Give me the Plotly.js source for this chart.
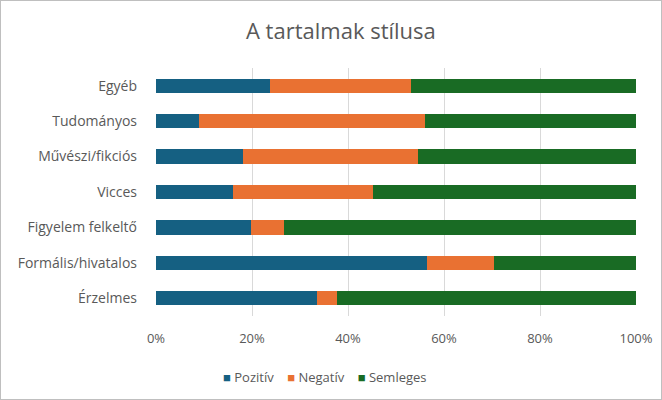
<!DOCTYPE html>
<html>
<head>
<meta charset="utf-8">
<script src="https://cdn.plot.ly/plotly-3.0.1.min.js"></script>
<style>
html,body{margin:0;padding:0;background:#fff;}
#chart{width:660px;height:398px;border:1px solid #bfbfbf;}
</style>
</head>
<body>
<div id="chart"></div>
<script>
const categories = ["Egyéb","Tudományos","Művészi/fikciós","Vicces","Figyelem felkeltő","Formális/hivatalos","Érzelmes"];
const pozitiv  = [23.8, 8.9, 18.1, 16.0, 19.7, 56.5, 33.6];
const negativ  = [29.3, 47.1, 36.5, 29.3, 6.9, 14.0, 4.2];
const semleges = [46.9, 44.0, 45.4, 54.7, 73.4, 29.5, 62.2];
const seriesNames = ["Pozitív","Negatív","Semleges"];
const colors = ["#156082","#E97132","#196B24"];

const data = [pozitiv, negativ, semleges].map((vals, i) => ({
  type: 'bar', orientation: 'h',
  y: categories, x: vals, name: seriesNames[i],
  marker: {color: colors[i]},
  hoverinfo: 'skip'
}));

const legendText = seriesNames.map((n, i) =>
  '<span style="color:' + colors[i] + '">■</span> ' + n).join('&nbsp;&nbsp;&nbsp;&nbsp;');

const font = 'Open Sans, sans-serif';
const layout = {
  width: 660, height: 398,
  barmode: 'stack', bargap: 0.6,
  margin: {l: 155, r: 25, t: 67, b: 83},
  paper_bgcolor: '#fff', plot_bgcolor: '#fff',
  font: {family: font, size: 13, color: '#595959'},
  title: {text: 'A tartalmak stílusa', x: 0.515, xanchor: 'center', y: 0.925, yanchor: 'middle',
          font: {size: 22, color: '#595959', family: font}},
  xaxis: {range: [0, 100], dtick: 20, ticksuffix: '%', showgrid: true, gridcolor: '#d9d9d9',
          zeroline: false, showline: false, ticks: '', ticklabelstandoff: 13,
          tickfont: {size: 13, color: '#595959'}, fixedrange: true},
  yaxis: {autorange: 'reversed', showgrid: false, ticks: '', ticklen: 0, ticklabelstandoff: 18,
          tickfont: {size: 14, color: '#595959'}, automargin: false, fixedrange: true},
  showlegend: false,
  annotations: [{
    xref: 'paper', yref: 'paper', x: 0.352, y: -0.245, xanchor: 'center', yanchor: 'middle',
    showarrow: false, text: legendText, font: {size: 13, color: '#595959', family: font}
  }]
};

Plotly.newPlot('chart', data, layout, {displayModeBar: false, staticPlot: true});
</script>
</body>
</html>
